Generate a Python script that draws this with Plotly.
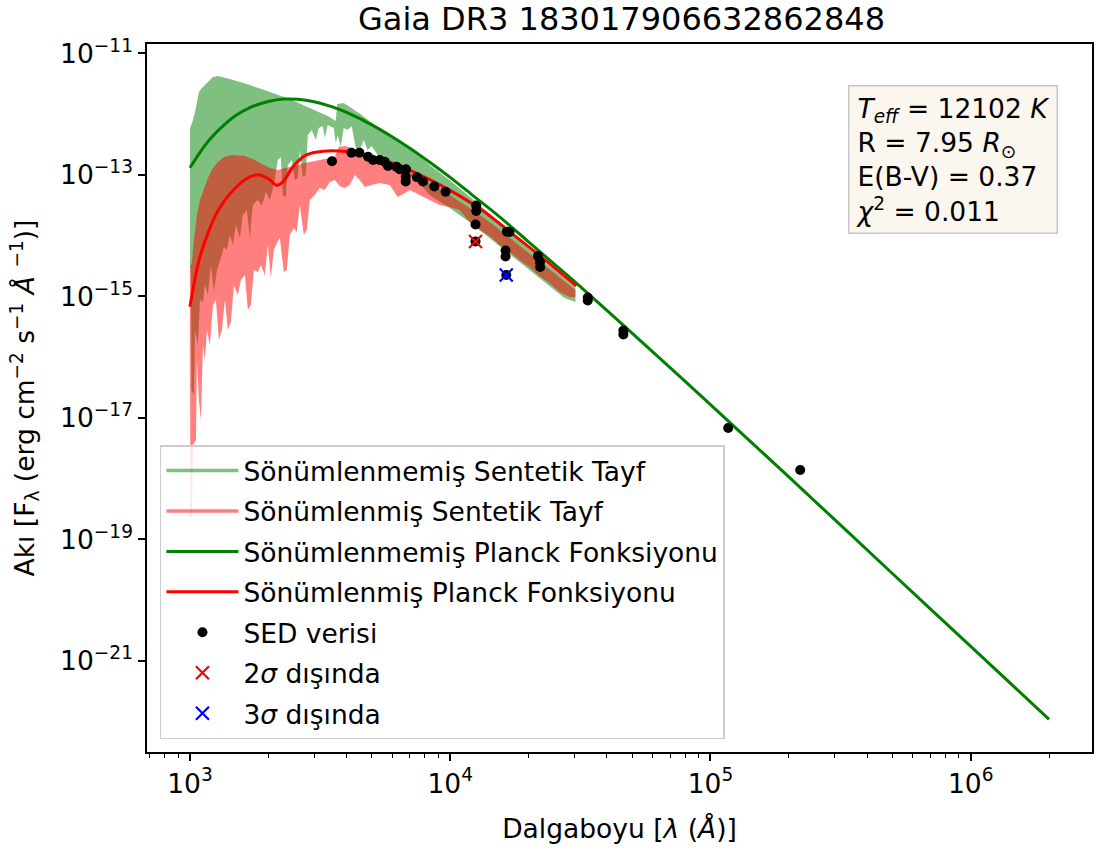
import plotly.graph_objects as go

# ---------------- data ----------------
# Unreddened Planck function (wavelength in Angstrom, log10 flux)
planck_unred_wave = [1000, 1100, 1200, 1350, 1500, 1700, 2000, 2300, 2600, 3000, 3500, 4000,
                     5000, 6000, 7000, 8500, 10000, 12000, 15000, 20000, 25000, 30000, 40000,
                     60000, 100000, 200000, 500000, 1000000, 2000000]
planck_unred_logflux = [-12.88, -12.61, -12.40, -12.18, -12.02, -11.89, -11.79, -11.75, -11.755,
                        -11.795, -11.875, -11.97, -12.175, -12.375, -12.56, -12.815, -13.04,
                        -13.31, -13.64, -14.10, -14.46, -14.75, -15.23, -15.91, -16.78, -17.97,
                        -19.56, -20.76, -21.96]

# Reddened Planck function
planck_red_wave = [1000, 1092, 1266, 1466, 1699, 1856, 2028, 2151, 2280, 2491, 2804, 3247, 3876,
                   4624, 5855, 7413, 9947, 13350, 17930, 24060, 30460]
planck_red_logflux = [-15.17, -14.35, -13.63, -13.25, -13.03, -13.00, -13.08, -13.17, -13.11,
                      -12.86, -12.67, -12.61, -12.61, -12.665, -12.79, -12.97, -13.25, -13.59,
                      -14.02, -14.46, -14.83]

# Unreddened synthetic spectrum: upper and lower envelope (log10 wavelength, log10 flux)
spec_unred_top_logwave = [3.000, 3.0038, 3.0115, 3.0230, 3.0345, 3.0460, 3.0614, 3.0767, 3.0883,
                          3.1074, 3.1266, 3.1535, 3.2302, 3.3070, 3.3837, 3.4605, 3.5372, 3.5602,
                          3.5660, 3.5909, 3.6216, 3.6600, 3.7099, 3.7675, 3.8250, 3.8826, 3.9210,
                          3.9977, 4.1128, 4.2279, 4.3431, 4.4198, 4.4812]
spec_unred_top_logflux = [-12.226, -12.193, -12.095, -11.897, -11.634, -11.568, -11.502, -11.436,
                          -11.387, -11.370, -11.387, -11.420, -11.519, -11.634, -11.749, -11.897,
                          -12.045, -12.111, -11.831, -11.815, -11.897, -12.012, -12.177, -12.342,
                          -12.506, -12.687, -12.835, -13.082, -13.494, -13.938, -14.366, -14.630,
                          -14.860]
spec_unred_bot_logwave = [3.000, 3.0038, 3.0058, 3.0153, 3.0192, 3.0307, 3.0384, 3.0499, 3.0576,
                          3.0691, 3.0806, 3.0921, 3.1036, 3.1190, 3.1305, 3.1420, 3.1535, 3.1650,
                          3.1765, 3.1919, 3.2034, 3.2187, 3.2302, 3.2418, 3.2609, 3.2763, 3.2916,
                          3.3070, 3.3223, 3.3377, 3.3492, 3.3569, 3.3684, 3.3761, 3.3914, 3.4029,
                          3.4144, 3.4221, 3.4336, 3.4451, 3.4528, 3.4681, 3.4835, 3.4950, 3.5104,
                          3.5180, 3.5295, 3.5526, 3.5602, 3.5679, 3.5794, 3.5909, 3.6063, 3.6216,
                          3.6370, 3.6523, 3.6677, 3.6830, 3.6984, 3.7214, 3.7483, 3.7866, 3.8250,
                          3.8634, 3.9210, 3.9977, 4.0744, 4.1512, 4.2279, 4.3047, 4.3814, 4.4390,
                          4.4812]
spec_unred_bot_logflux = [-14.531, -14.531, -16.539, -16.621, -15.551, -15.798, -15.058, -15.091,
                          -14.811, -14.975, -14.481, -14.926, -14.564, -14.366, -14.185, -14.235,
                          -13.988, -14.152, -13.823, -14.037, -13.659, -13.576, -14.037, -13.494,
                          -13.412, -13.510, -13.280, -13.412, -13.165, -12.753, -12.704, -13.329,
                          -13.362, -12.835, -12.753, -13.082, -13.049, -12.588, -13.033, -13.000,
                          -12.342, -12.259, -12.424, -12.226, -12.193, -12.391, -12.177, -12.226,
                          -12.473, -12.342, -12.539, -12.226, -12.259, -12.193, -12.556, -12.588,
                          -12.424, -12.588, -12.523, -12.671, -12.786, -12.835, -12.951, -13.049,
                          -13.329, -13.543, -13.774, -14.037, -14.300, -14.564, -14.827, -15.025,
                          -15.091]

# Reddened synthetic spectrum: upper and lower envelope
spec_red_top_logwave = [3.000, 3.0077, 3.0153, 3.0269, 3.0384, 3.0537, 3.0691, 3.0883, 3.1074,
                        3.1305, 3.1612, 3.2111, 3.2494, 3.2763, 3.3070, 3.3377, 3.3645, 3.4029,
                        3.4413, 3.4988, 3.5564, 3.5718, 3.5948, 3.6216, 3.6523, 3.7099, 3.7675,
                        3.8250, 3.8826, 3.9401, 3.9977, 4.0744, 4.1512, 4.2279, 4.3047, 4.3814,
                        4.4390, 4.4812]
spec_red_top_logflux = [-14.531, -14.432, -14.070, -13.659, -13.412, -13.214, -13.049, -12.885,
                        -12.786, -12.704, -12.671, -12.687, -12.753, -12.819, -12.885, -12.918,
                        -12.885, -12.852, -12.802, -12.753, -12.704, -12.539, -12.523, -12.556,
                        -12.621, -12.687, -12.786, -12.918, -13.049, -13.181, -13.329, -13.543,
                        -13.774, -14.037, -14.300, -14.564, -14.761, -14.893]
spec_red_bot_logwave = [3.000, 3.0019, 3.0077, 3.0115, 3.0230, 3.0269, 3.0345, 3.0422, 3.0499,
                        3.0576, 3.0652, 3.0767, 3.0883, 3.0998, 3.1113, 3.1228, 3.1343, 3.1458,
                        3.1573, 3.1688, 3.1842, 3.1957, 3.2111, 3.2226, 3.2341, 3.2456, 3.2609,
                        3.2724, 3.2878, 3.2993, 3.3108, 3.3223, 3.3338, 3.3454, 3.3607, 3.3722,
                        3.3837, 3.3991, 3.4106, 3.4221, 3.4375, 3.4490, 3.4605, 3.4797, 3.4988,
                        3.5180, 3.5372, 3.5564, 3.5756, 3.5948, 3.6140, 3.6332, 3.6523, 3.6715,
                        3.6984, 3.7291, 3.7675, 3.7982, 3.8135, 3.8442, 3.8826, 3.9210, 3.9593,
                        3.9977, 4.0361, 4.0744, 4.1128, 4.1512, 4.1896, 4.2279, 4.2663, 4.3047,
                        4.3431, 4.3814, 4.4198, 4.4582, 4.4812]
spec_red_bot_logflux = [-15.058, -18.630, -18.630, -17.444, -17.362, -16.045, -16.704, -17.033,
                        -15.798, -16.045, -15.551, -15.798, -15.140, -15.058, -15.716, -15.551,
                        -15.058, -15.551, -15.420, -14.811, -14.975, -14.728, -14.646, -15.222,
                        -15.140, -14.564, -14.597, -14.481, -14.646, -14.152, -14.695, -14.235,
                        -14.119, -14.037, -14.597, -14.564, -13.988, -13.872, -13.938, -13.494,
                        -13.988, -13.905, -13.412, -13.329, -13.214, -13.247, -13.115, -13.082,
                        -13.181, -13.214, -13.165, -13.000, -13.082, -13.198, -13.165, -13.132,
                        -13.165, -13.362, -13.329, -13.247, -13.329, -13.412, -13.494, -13.527,
                        -13.576, -13.774, -13.905, -14.004, -14.152, -14.267, -14.399, -14.514,
                        -14.663, -14.778, -14.926, -15.008, -15.008]

# SED photometry
sed_wave = [3514, 4174, 4479, 4833, 5051, 5358, 5603, 5768, 6212, 6395, 6761, 6745, 6745, 7450,
            7858, 8690, 9600, 12590, 12590, 12510, 12510, 16510, 16900, 16320, 16320, 16420,
            21740, 22130, 22170, 33770, 33770, 46280, 46280, 117000, 221200]
sed_logflux = [-12.773, -12.633, -12.633, -12.699, -12.753, -12.753, -12.781, -12.852, -12.863,
               -12.906, -12.906, -13.028, -13.107, -13.038, -13.107, -13.189, -13.275, -13.502,
               -13.593, -13.815, -14.095, -13.933, -13.938, -14.243, -14.342, -14.646, -14.333,
               -14.432, -14.514, -15.016, -15.066, -15.560, -15.626, -17.165, -17.856]

out2sigma_wave = [12510]
out2sigma_logflux = [-14.095]
out3sigma_wave = [16420]
out3sigma_logflux = [-14.646]

x_tick_vals = [1e3, 1e4, 1e5, 1e6]
x_tick_text = ["10<sup>3</sup>", "10<sup>4</sup>", "10<sup>5</sup>", "10<sup>6</sup>"]
y_tick_vals = [1e-21, 1e-19, 1e-17, 1e-15, 1e-13, 1e-11]
y_tick_text = ["10<sup>\u221221</sup>", "10<sup>\u221219</sup>", "10<sup>\u221217</sup>",
               "10<sup>\u221215</sup>", "10<sup>\u221213</sup>", "10<sup>\u221211</sup>"]

title_text = "Gaia DR3 183017906632862848"
info_text = ("<i>T</i><sub><i>eff</i></sub> = 12102 <i>K</i><br>"
             "R = 7.95 <i>R</i><sub>\u2299</sub><br>"
             "E(B-V) = 0.37<br>"
             "<i>\u03c7</i><sup>2</sup> = 0.011")

# ---------------- figure ----------------
FONT = "DejaVu Sans"
FS = 26.5
GREEN_A = "rgba(0,128,0,0.5)"
RED_A = "rgba(255,0,0,0.5)"


def pow10(v):
    return [10 ** a for a in v]


def polygon(top_lw, top_lf, bot_lw, bot_lf):
    xs = pow10(top_lw) + pow10(bot_lw[::-1])
    ys = pow10(top_lf) + pow10(bot_lf[::-1])
    return xs, ys


fig = go.Figure()

gx, gy = polygon(spec_unred_top_logwave, spec_unred_top_logflux,
                 spec_unred_bot_logwave, spec_unred_bot_logflux)
fig.add_trace(go.Scatter(x=gx, y=gy, mode="lines", fill="toself", fillcolor=GREEN_A,
                         line=dict(width=0, color=GREEN_A), showlegend=False, hoverinfo="skip"))
rx, ry = polygon(spec_red_top_logwave, spec_red_top_logflux,
                 spec_red_bot_logwave, spec_red_bot_logflux)
fig.add_trace(go.Scatter(x=rx, y=ry, mode="lines", fill="toself", fillcolor=RED_A,
                         line=dict(width=0, color=RED_A), showlegend=False, hoverinfo="skip"))

# legend stand-ins for the spectra
fig.add_trace(go.Scatter(x=[None], y=[None], mode="lines", line=dict(color=GREEN_A, width=3.5),
                         name="Sönümlenmemiş Sentetik Tayf", legendrank=1, legendgroup="a"))
fig.add_trace(go.Scatter(x=[None], y=[None], mode="lines", line=dict(color=RED_A, width=3.5),
                         name="Sönümlenmiş Sentetik Tayf", legendrank=2, legendgroup="b"))

fig.add_trace(go.Scatter(x=planck_unred_wave, y=pow10(planck_unred_logflux), mode="lines",
                         line=dict(color="green", width=3, shape="spline", smoothing=0.8),
                         name="Sönümlenmemiş Planck Fonksiyonu", legendrank=3, legendgroup="c"))
fig.add_trace(go.Scatter(x=planck_red_wave, y=pow10(planck_red_logflux), mode="lines",
                         line=dict(color="red", width=3, shape="spline", smoothing=0.8),
                         name="Sönümlenmiş Planck Fonksiyonu", legendrank=4, legendgroup="d"))
fig.add_trace(go.Scatter(x=sed_wave, y=pow10(sed_logflux), mode="markers",
                         marker=dict(color="black", size=10),
                         name="SED verisi", legendrank=5, legendgroup="e"))
fig.add_trace(go.Scatter(x=out2sigma_wave, y=pow10(out2sigma_logflux), mode="markers",
                         marker=dict(symbol="x-thin", size=13, line=dict(color="red", width=2.2)),
                         name="2<i>\u03c3</i> dışında", legendrank=6, legendgroup="f"))
fig.add_trace(go.Scatter(x=out3sigma_wave, y=pow10(out3sigma_logflux), mode="markers",
                         marker=dict(symbol="x-thin", size=13, line=dict(color="blue", width=2.2)),
                         name="3<i>\u03c3</i> dışında", legendrank=7, legendgroup="g"))

fig.add_annotation(x=0.742, y=0.942, xref="paper", yref="paper", xanchor="left", yanchor="top",
                   text=info_text, align="left", showarrow=False,
                   font=dict(family=FONT, size=FS, color="black"),
                   bgcolor="rgb(251,246,238)", bordercolor="rgb(200,200,200)", borderwidth=1.5,
                   borderpad=6)

axis_common = dict(showline=True, linecolor="black", linewidth=1.5, mirror=True,
                   ticks="outside", ticklen=7, tickwidth=1.5, tickcolor="black",
                   showgrid=False, zeroline=False,
                   tickfont=dict(family=FONT, size=FS, color="black"))

fig.update_layout(
    width=1101, height=854,
    margin=dict(l=147, r=7, t=44, b=102),
    paper_bgcolor="white", plot_bgcolor="white",
    font=dict(family=FONT, color="black"),
    title=dict(text=title_text, x=0.5645, xanchor="center", y=0.978, yanchor="middle",
               font=dict(family=FONT, size=32, color="black")),
    xaxis=dict(type="log", range=[2.835, 6.466], tickvals=x_tick_vals, ticktext=x_tick_text,
               minor=dict(ticks="outside", ticklen=4, tickwidth=1.1, tickcolor="black",
                          tickvals=[m * 10 ** d for d in range(2, 7) for m in range(2, 10)]),
               title=dict(text="Dalgaboyu [<i>λ</i> (<i>Å</i>)]", standoff=22,
                          font=dict(family=FONT, size=FS, color="black")),
               **axis_common),
    yaxis=dict(type="log", range=[-22.498, -10.844], tickvals=y_tick_vals, ticktext=y_tick_text,
               title=dict(text="Akı [F<sub>λ</sub> (erg cm<sup>\u22122</sup> s<sup>\u22121</sup> "
                               "<i>Å</i> <sup>\u22121</sup>)]", standoff=18,
                          font=dict(family=FONT, size=FS, color="black")),
               **axis_common),
    legend=dict(x=0.0137, y=0.018, xanchor="left", yanchor="bottom",
                bgcolor="rgba(255,255,255,0.8)", bordercolor="rgb(204,204,204)", borderwidth=1.5,
                font=dict(family=FONT, size=FS, color="black"), tracegroupgap=3,
                itemwidth=72),
)

fig.write_html("out.html")
